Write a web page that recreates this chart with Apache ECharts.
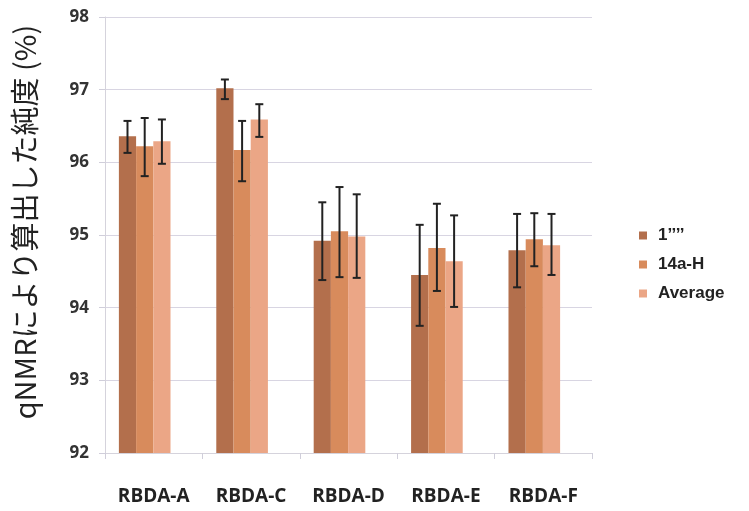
<!DOCTYPE html>
<html><head><meta charset="utf-8">
<script src="https://cdn.jsdelivr.net/npm/echarts@6/dist/echarts.min.js"></script>
<style>html,body{margin:0;padding:0;background:#fff}#c{width:749px;height:511px}</style>
</head><body><div id="c"></div>
<script>
const categories = ['RBDA-A','RBDA-C','RBDA-D','RBDA-E','RBDA-F'];
const seriesNames = ['1\u2019\u2019\u2019\u2019','14a-H','Average'];
const s1 = [96.36, 97.02, 94.92, 94.45, 94.79];
const s1Low = [96.13, 96.87, 94.38, 93.75, 94.28];
const s1High = [96.57, 97.14, 95.45, 95.14, 95.29];
const s2 = [96.22, 96.17, 95.05, 94.82, 94.94];
const s2Low = [95.81, 95.74, 94.42, 94.23, 94.57];
const s2High = [96.61, 96.57, 95.66, 95.43, 95.30];
const s3 = [96.29, 96.59, 94.98, 94.64, 94.86];
const s3Low = [95.98, 96.35, 94.41, 94.01, 94.45];
const s3High = [96.59, 96.80, 95.56, 95.27, 95.29];
const yTicks = [92, 93, 94, 95, 96, 97, 98];
const yTitle = 'qNMRにより算出した純度 (%)';

const colors = ['#b36f4c', '#d88b5c', '#eba686'];
const gapRatio = 0.47;
const values = [s1, s2, s3];
const lows = [s1Low, s2Low, s3Low];
const highs = [s1High, s2High, s3High];

function errSeries(k) {
  const data = categories.map((c, i) => [i, lows[k][i], highs[k][i]]);
  return {
    type: 'custom', name: seriesNames[k] + '_err', silent: true, z: 10,
    xAxisIndex: 1, yAxisIndex: 1,
    renderItem: function (params, api) {
      const i = api.value(0);
      const lo = api.coord([i, api.value(1)]);
      const hi = api.coord([i, api.value(2)]);
      const band = api.size([1, 0])[0];
      const bw = band * (1 - gapRatio) / 3;
      const x = lo[0] + (k - 1) * bw;
      const cap = 4;
      const st = { stroke: '#222', lineWidth: 2 };
      return { type: 'group', children: [
        { type: 'line', shape: { x1: x, y1: hi[1], x2: x, y2: lo[1] }, style: st },
        { type: 'line', shape: { x1: x - cap, y1: hi[1], x2: x + cap, y2: hi[1] }, style: st },
        { type: 'line', shape: { x1: x - cap, y1: lo[1], x2: x + cap, y2: lo[1] }, style: st }
      ]};
    },
    data: data
  };
}

const barSeries = values.map((v, k) => ({
  type: 'bar', name: seriesNames[k], data: v,
  xAxisIndex: 1, yAxisIndex: 1,
  itemStyle: { color: colors[k] },
  barGap: '0%', barCategoryGap: (gapRatio * 100) + '%'
}));

const chart = echarts.init(document.getElementById('c'), null, { renderer: 'canvas' });
chart.setOption({
  animation: false,
  backgroundColor: '#fff',
  grid: [
    { left: 105, right: 157, top: 17, bottom: 58 },
    { left: 96, right: 166, top: 17, bottom: 58 }
  ],
  graphic: [{
    type: 'text', x: 25, y: 222, rotation: Math.PI / 2,
    style: { text: yTitle, fontFamily: 'Noto Sans CJK JP', fontSize: 29, fill: '#222',
      textAlign: 'center', textVerticalAlign: 'middle' }
  }],
  legend: {
    orient: 'vertical', left: 634, top: 222, itemGap: 12,
    itemWidth: 8, itemHeight: 8, icon: 'rect',
    data: seriesNames,
    textStyle: { fontFamily: 'Liberation Sans', fontWeight: 'bold', fontSize: 17, color: '#222', padding: [0, 0, 0, 6] }
  },
  xAxis: [{
    type: 'category', data: categories, gridIndex: 0,
    axisLine: { show: true, lineStyle: { color: '#d5d3dc', width: 1 } },
    axisTick: { show: true, length: 6, lineStyle: { color: '#d0ceda' } },
    axisLabel: { margin: 34, fontFamily: 'Open Sans', fontWeight: 'bold', fontSize: 19, color: '#222' }
  }, {
    type: 'category', data: categories, gridIndex: 1, show: false
  }],
  yAxis: [{
    type: 'value', min: 92, max: 98, interval: 1, gridIndex: 0,
    axisLine: { show: true, lineStyle: { color: '#d5d3dc' } },
    axisTick: { show: true, inside: false, length: 6, lineStyle: { color: '#d0ceda' } },
    splitLine: { lineStyle: { color: '#d8d5e2', width: 1 } },
    axisLabel: { margin: 16, fontFamily: 'Open Sans', fontWeight: 'bold', fontSize: 17, color: '#333',
      formatter: v => yTicks.includes(v) ? String(v) : '' }
  }, {
    type: 'value', min: 92, max: 98, interval: 1, gridIndex: 1, show: false,
    splitLine: { show: false }
  }],
  series: [...barSeries, errSeries(0), errSeries(1), errSeries(2)]
});
</script></body></html>
